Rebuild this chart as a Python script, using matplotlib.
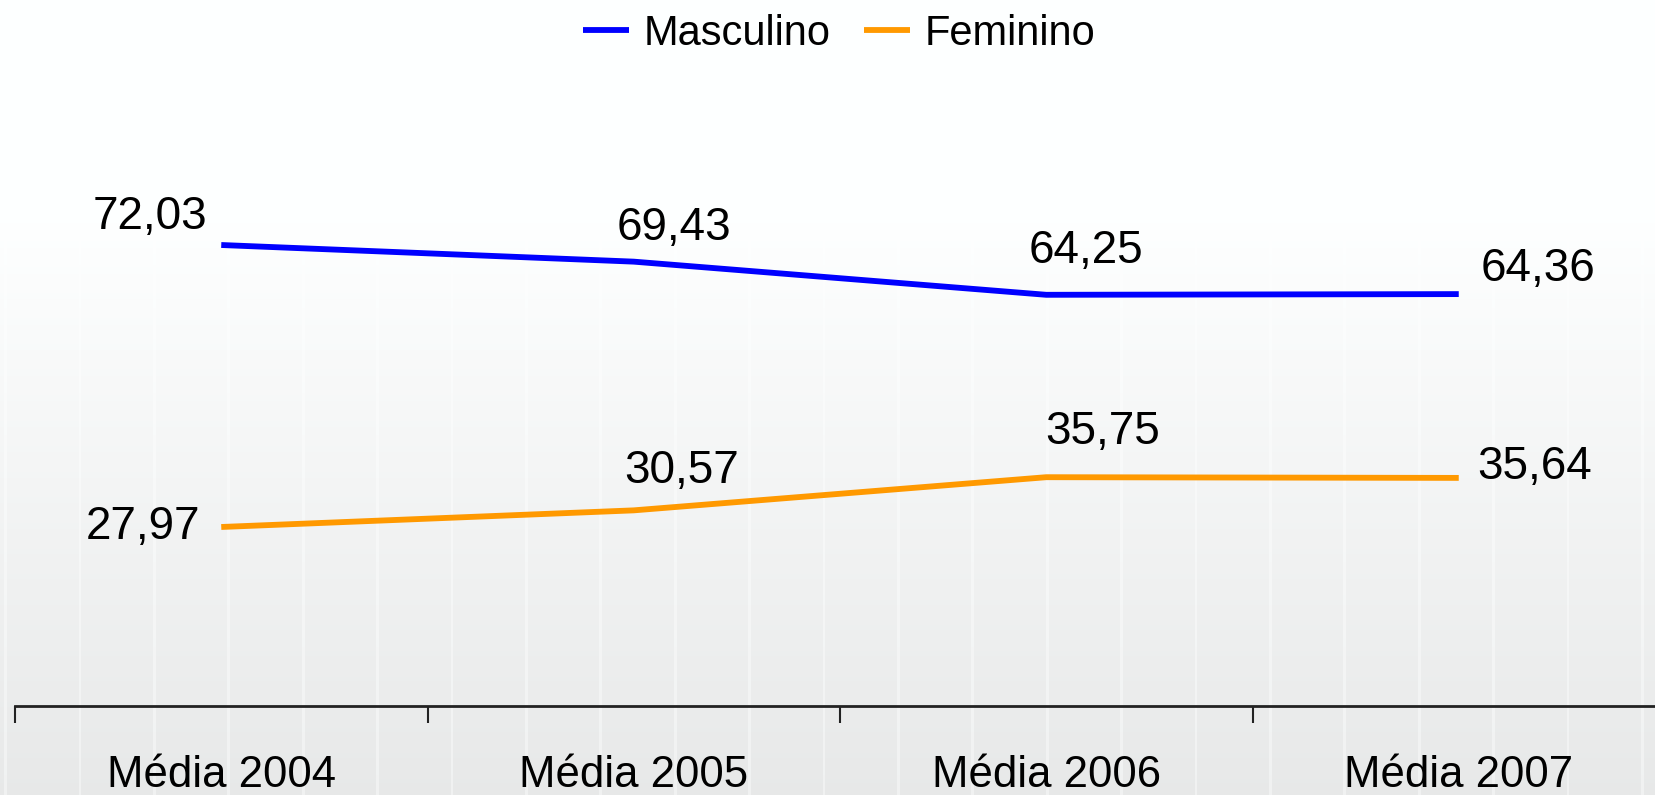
import numpy as np
import matplotlib.pyplot as plt

# data
categories = ['Média 2004', 'Média 2005', 'Média 2006', 'Média 2007']
masculino = [72.03, 69.43, 64.25, 64.36]
feminino = [27.97, 30.57, 35.75, 35.64]
masc_labels = ['72,03', '69,43', '64,25', '64,36']
fem_labels = ['27,97', '30,57', '35,75', '35,64']

W, H = 1655, 795
narrow = ['Liberation Sans Narrow', 'Liberation Sans', 'DejaVu Sans']
plt.rcParams['font.family'] = ['Liberation Sans', 'DejaVu Sans']

fig = plt.figure(figsize=(W / 100, H / 100), dpi=100)

# background: white fading to light grey, with faint vertical stripes
bg = fig.add_axes([0, 0, 1, 1], zorder=-10)
rows = np.linspace(0, 1, H)
shade = np.clip((rows - 0.28) / 0.72, 0, 1)
col = 1.0 - 0.088 * shade
img = np.repeat(col[:, None], W, axis=1)
xs = np.arange(W)
phase = (xs - 5) % 74.4
stripe = (phase < 1.5) | (phase > 73.0)
img[:, stripe] = img[:, stripe] + 0.4 * (1 - img[:, stripe])
rgb = np.dstack([img * 0.995, img, img])
bg.imshow(np.clip(rgb, 0, 1), aspect='auto', extent=[0, 1, 0, 1], origin='upper')
bg.axis('off')

ax = fig.add_axes([15 / W, 89 / H, 1650 / W, 640 / H])
ax.patch.set_alpha(0)
x = np.arange(len(categories))

ax.plot(x, masculino, color='#0000FF', lw=4.2, label='Masculino', solid_capstyle='butt')
ax.plot(x, feminino, color='#FF9900', lw=4.2, label='Feminino', solid_capstyle='butt')

masc_off = [(-71, 28), (40, 34), (40, 44), (79, 25)]
fem_off = [(-78, 0), (48, 39), (56, 45), (76, 11)]
for i in range(len(categories)):
    ax.annotate(masc_labels[i], (x[i], masculino[i]), xytext=masc_off[i],
                textcoords='offset pixels', ha='center', va='center',
                fontsize=33, family=narrow)
    ax.annotate(fem_labels[i], (x[i], feminino[i]), xytext=fem_off[i],
                textcoords='offset pixels', ha='center', va='center',
                fontsize=33, family=narrow)

ax.set_xlim(-0.5, 3.5)
ax.set_ylim(0, 100)
ax.set_xticks(np.arange(-0.5, 3.5, 1))
ax.set_xticklabels([])
ax.set_xticks(x, minor=True)
ax.set_xticklabels(categories, minor=True, fontsize=31.5)
ax.tick_params(axis='x', which='major', length=12, width=1.5, color='#222222', direction='out')
ax.tick_params(axis='x', which='minor', length=0, pad=35)
ax.set_yticks([])
for side in ['top', 'right', 'left']:
    ax.spines[side].set_visible(False)
ax.spines['bottom'].set_linewidth(2)
ax.spines['bottom'].set_color('#222222')

fig.legend(loc='center', bbox_to_anchor=(839 / W, 1 - 34 / H), ncol=2, frameon=False,
           prop={'family': narrow, 'size': 30}, handlelength=1.1, handletextpad=0.35,
           columnspacing=0.8, borderaxespad=0)

fig.savefig('out.png', dpi=100)
